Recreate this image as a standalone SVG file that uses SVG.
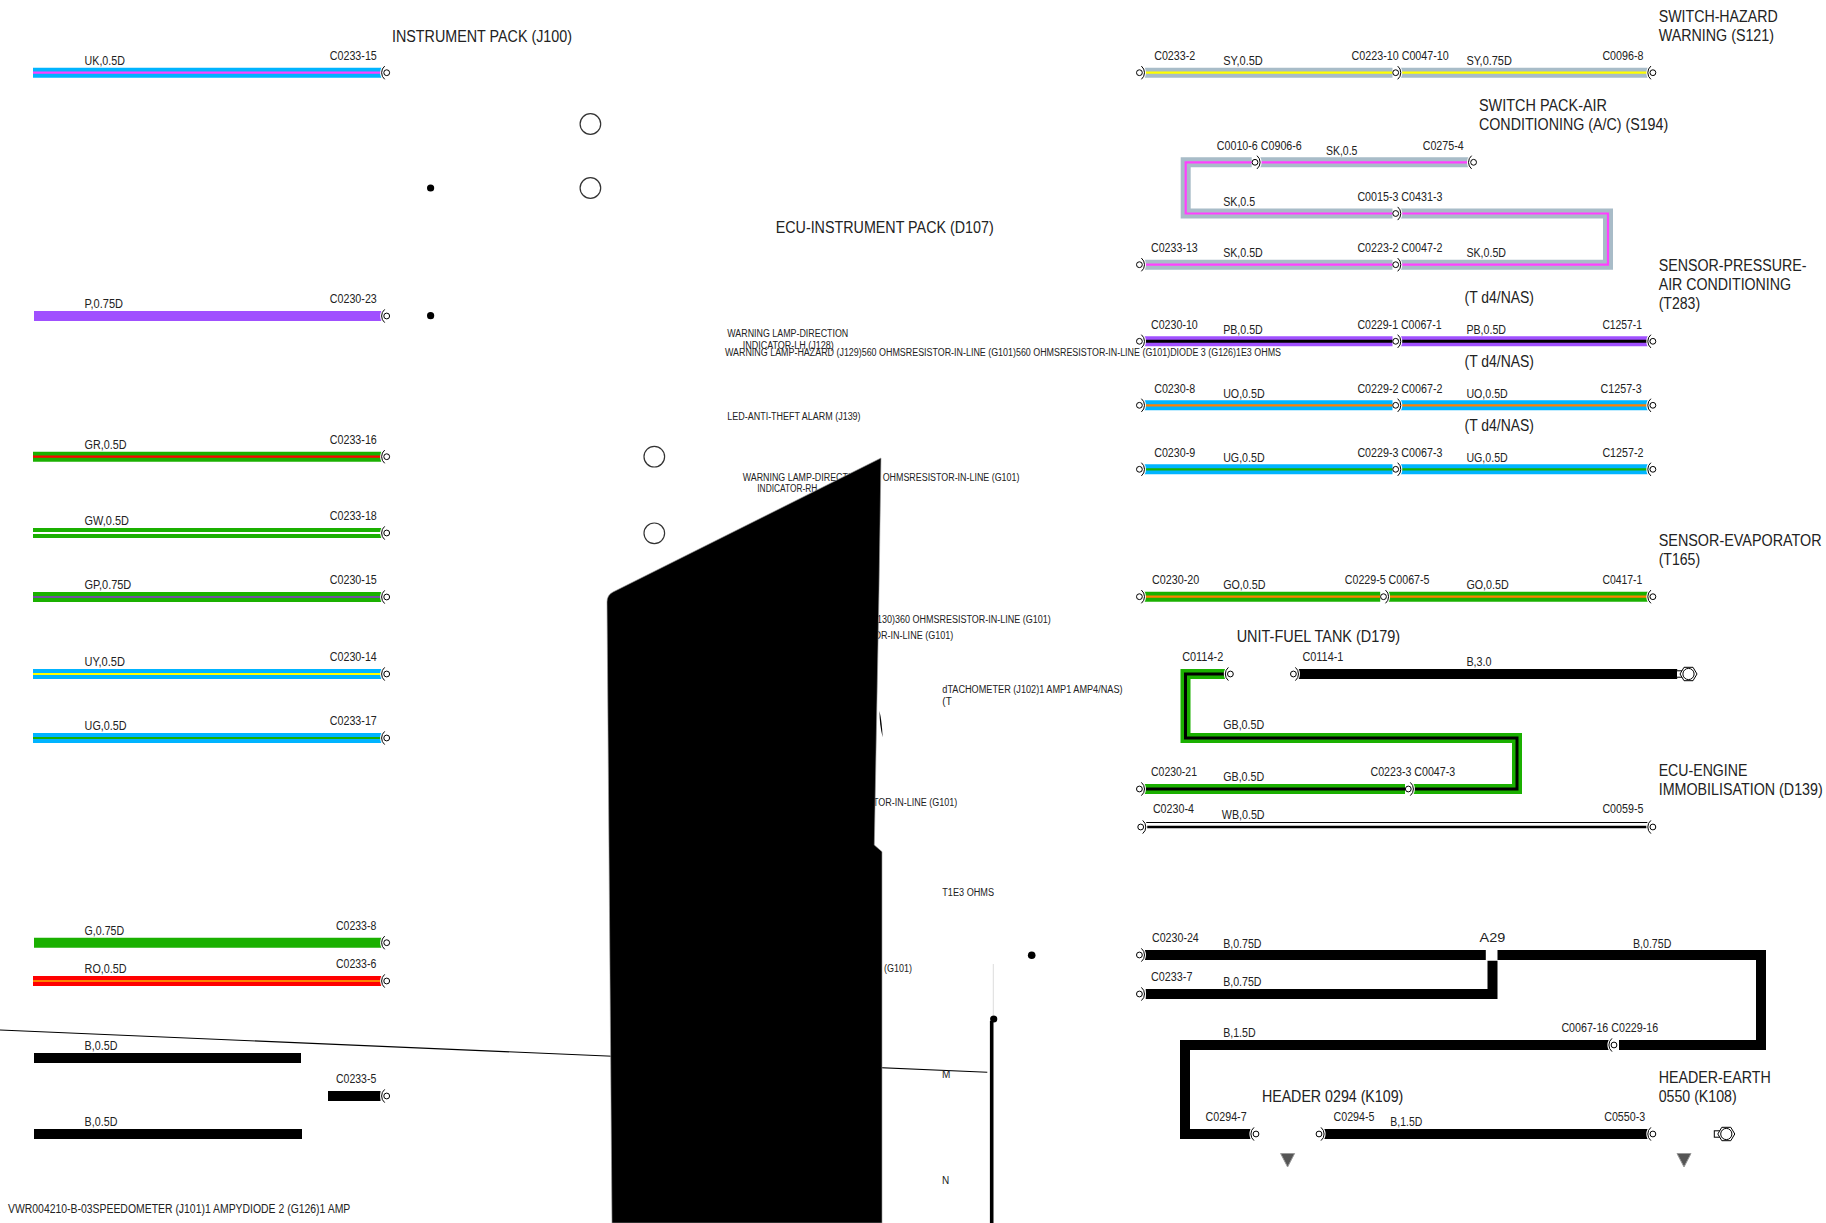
<svg xmlns="http://www.w3.org/2000/svg" width="1826" height="1223" viewBox="0 0 1826 1223">
<style>
text{font-family:"Liberation Sans",Arial,sans-serif;fill:#222}
.t{font-size:12px}
.h{font-size:16px}
.s{font-size:10px}
.w,.i{fill:none;stroke-linejoin:miter}
.w{stroke-width:10}
.i{stroke-width:2.2}
.cy{stroke:#00b4ff}.mg{stroke:#ff40ff}.pu{stroke:#a050ff}.gn{stroke:#1ab000}.rd{stroke:#f00}.wh{stroke:#fff}
.vi{stroke:#7050a0}.ye{stroke:#ff0}.or{stroke:#ff8000}.gy{stroke:#a8bcc8}.bk{stroke:#000}
.i.bk{stroke-width:3}
.term{fill:none;stroke:#000;stroke-width:1}
.halo{fill:none;stroke:#fff;stroke-width:3}
.ci{fill:#fff;stroke:#000;stroke-width:1}
.o{fill:#fff;stroke:#333;stroke-width:1.2}
.d{fill:#000}
.tri{fill:#555;stroke:#999;stroke-width:1}
</style>
<defs>
<g id="tR"><path class="halo" d="M-2-6.6A8.6 8.6 0 0 0-2 6.6"/><path class="term" d="M-2-6.6A8.6 8.6 0 0 0-2 6.6"/><circle class="ci" r="2.9"/></g>
<g id="tL"><path class="halo" d="M2-6.6A8.6 8.6 0 0 1 2 6.6"/><path class="term" d="M2-6.6A8.6 8.6 0 0 1 2 6.6"/><circle class="ci" r="2.9"/></g>
<g id="nut"><rect x="-12" y="-3.2" width="6" height="6.4" fill="#fff" stroke="#000"/><path class="ci" d="M-8.5 0L-4.5-6.7H4.5L8.5 0L4.5 6.7H-4.5Z"/><circle class="ci" r="5.6"/></g>
</defs>
<rect width="1826" height="1223" fill="#fff"/>

<g id="connectors">
<path class="w cy" d="M33 72.7H381.6"/><path class="i mg" d="M33 72.7H381.6"/>
<path class="w pu" d="M34 316H381.6"/>
<path class="w gn" d="M33 456.7H381.6"/><path class="i rd" d="M33 456.7H381.6"/>
<path class="w gn" d="M33 533H381.6"/><path class="i wh" d="M33 533H381.6"/>
<path class="w gn" d="M33 597H381.6"/><path class="i vi" d="M33 597H381.6"/>
<path class="w cy" d="M33 674H381.6"/><path class="i ye" d="M33 674H381.6"/>
<path class="w cy" d="M33 738H381.6"/><path class="i gn" d="M33 738H381.6"/>
<path class="w gn" d="M34 942.7H381.6"/>
<path class="w rd" d="M33 981H381.6"/><path class="i or" d="M33 981H381.6"/>
<path class="w bk" d="M34 1058H301"/>
<path class="w bk" d="M328 1096H380.5"/>
<path class="w bk" d="M34 1134H302"/>

<path class="w gy" d="M1144.8 72.7H1649.3"/><path class="i ye" d="M1144.8 72.7H1649.3"/>
<path class="w gy" d="M1144.8 264.7H1608V213.5H1185.7V162.3H1469"/><path class="i mg" d="M1144.8 264.7H1608V213.5H1185.7V162.3H1469"/>
<path class="w pu" d="M1143.4 341.3H1649.3"/><path class="i bk" d="M1143.4 341.3H1649.3"/>
<path class="w cy" d="M1143.4 405.3H1649.3"/><path class="i or" d="M1143.4 405.3H1649.3"/>
<path class="w cy" d="M1143.4 469.3H1649.3"/><path class="i gn" d="M1143.4 469.3H1649.3"/>
<path class="w gn" d="M1143.4 596.7H1649.3"/><path class="i or" d="M1143.4 596.7H1649.3"/>
<path class="w bk" d="M1298 674H1677.2"/>
<path class="w gn" d="M1225.5 674H1185.5V738H1517V789H1143.4"/><path class="i bk" d="M1225.5 674H1185.5V738H1517V789H1143.4"/>
<path fill="none" stroke="#000" stroke-width="1" d="M1146 822.5H1648.4"/>
<path fill="none" stroke="#000" stroke-width="2.6" d="M1146 827H1648.4"/>
<path class="w bk" d="M1144.8 955H1485.8"/>
<path class="w bk" d="M1497.5 955H1761V1045H1185V1134H1250.6"/>
<path class="w bk" d="M1145.7 994H1492.5V960.7"/>
<path class="w bk" d="M1324 1134H1648.4"/>
<rect x="1392.5" y="66" width="7.5" height="14" fill="#fff"/>
<rect x="1392.5" y="207" width="7.5" height="14" fill="#fff"/>
<rect x="1392.5" y="258" width="7.5" height="14" fill="#fff"/>
<rect x="1392.5" y="335" width="7.5" height="13" fill="#fff"/>
<rect x="1392.5" y="399" width="7.5" height="13" fill="#fff"/>
<rect x="1392.5" y="463" width="7.5" height="13" fill="#fff"/>
<rect x="1380.2" y="590" width="7.5" height="13" fill="#fff"/>
<rect x="1405" y="783" width="7.5" height="13" fill="#fff"/>
<rect x="1609.6" y="1039" width="9.4" height="12" fill="#fff"/>
<rect x="1251.7" y="156" width="7.5" height="13" fill="#fff"/>

<path stroke="#000" stroke-width="1.1" d="M0 1030L987.3 1072.3"/>
<path fill="none" stroke="#000" stroke-width="3.6" d="M991.7 1021V1223"/>
<path fill="none" stroke="#ddd" stroke-width="1" d="M993.3 964V1015"/>
</g>

<g id="instrument-pack">
<text class="h" x="392" y="42" textLength="180" lengthAdjust="spacingAndGlyphs">INSTRUMENT PACK (J100)</text>
<text class="t" x="84.6" y="65" textLength="40.3" lengthAdjust="spacingAndGlyphs">UK,0.5D</text>
<text class="t" x="329.8" y="60" textLength="47" lengthAdjust="spacingAndGlyphs">C0233-15</text>
<text class="t" x="84.6" y="308" textLength="38.4" lengthAdjust="spacingAndGlyphs">P,0.75D</text>
<text class="t" x="329.8" y="303" textLength="47" lengthAdjust="spacingAndGlyphs">C0230-23</text>
<text class="t" x="84.6" y="449" textLength="42" lengthAdjust="spacingAndGlyphs">GR,0.5D</text>
<text class="t" x="329.8" y="444" textLength="47" lengthAdjust="spacingAndGlyphs">C0233-16</text>
<text class="t" x="84.6" y="525" textLength="44.3" lengthAdjust="spacingAndGlyphs">GW,0.5D</text>
<text class="t" x="329.8" y="520" textLength="47" lengthAdjust="spacingAndGlyphs">C0233-18</text>
<text class="t" x="84.6" y="589" textLength="46.7" lengthAdjust="spacingAndGlyphs">GP,0.75D</text>
<text class="t" x="329.8" y="584" textLength="47" lengthAdjust="spacingAndGlyphs">C0230-15</text>
<text class="t" x="84.6" y="666" textLength="40.3" lengthAdjust="spacingAndGlyphs">UY,0.5D</text>
<text class="t" x="329.8" y="661" textLength="47" lengthAdjust="spacingAndGlyphs">C0230-14</text>
<text class="t" x="84.6" y="730" textLength="42" lengthAdjust="spacingAndGlyphs">UG,0.5D</text>
<text class="t" x="329.8" y="725" textLength="47" lengthAdjust="spacingAndGlyphs">C0233-17</text>
<text class="t" x="84.6" y="935" textLength="39.5" lengthAdjust="spacingAndGlyphs">G,0.75D</text>
<text class="t" x="336" y="930" textLength="40.3" lengthAdjust="spacingAndGlyphs">C0233-8</text>
<text class="t" x="84.6" y="973" textLength="42" lengthAdjust="spacingAndGlyphs">RO,0.5D</text>
<text class="t" x="336" y="968" textLength="40.3" lengthAdjust="spacingAndGlyphs">C0233-6</text>
<text class="t" x="84.6" y="1050" textLength="32.8" lengthAdjust="spacingAndGlyphs">B,0.5D</text>
<text class="t" x="336" y="1083" textLength="40.3" lengthAdjust="spacingAndGlyphs">C0233-5</text>
<text class="t" x="84.6" y="1126" textLength="32.8" lengthAdjust="spacingAndGlyphs">B,0.5D</text>
<text class="t" x="8" y="1213" textLength="342.3" lengthAdjust="spacingAndGlyphs">VWR004210-B-03SPEEDOMETER (J101)1 AMPYDIODE 2 (G126)1 AMP</text>
<use href="#tR" x="386.7" y="72.7"/><use href="#tR" x="386.7" y="316"/><use href="#tR" x="386.7" y="456.7"/>
<use href="#tR" x="386.7" y="533"/><use href="#tR" x="386.7" y="597"/><use href="#tR" x="386.7" y="674"/>
<use href="#tR" x="386.7" y="738"/><use href="#tR" x="386.7" y="942.7"/><use href="#tR" x="386.7" y="981"/>
<use href="#tR" x="386.7" y="1096"/>
<circle class="o" cx="590.4" cy="124" r="10.3"/><circle class="o" cx="590.4" cy="188" r="10.3"/>
<circle class="o" cx="654.3" cy="456.7" r="10.3"/><circle class="o" cx="654.3" cy="533.3" r="10.3"/>
<circle class="d" cx="430.6" cy="188" r="3.6"/><circle class="d" cx="430.6" cy="315.7" r="3.6"/>
</g>

<g id="ecu-instrument-pack">
<text class="h" x="775.7" y="233" textLength="218" lengthAdjust="spacingAndGlyphs">ECU-INSTRUMENT PACK (D107)</text>
<text class="s" x="727.3" y="337.3" textLength="121" lengthAdjust="spacingAndGlyphs">WARNING LAMP-DIRECTION</text>
<text class="s" x="742.7" y="349" textLength="91" lengthAdjust="spacingAndGlyphs">INDICATOR-LH (J128)</text>
<text class="s" x="725" y="356" textLength="556" lengthAdjust="spacingAndGlyphs">WARNING LAMP-HAZARD (J129)560 OHMSRESISTOR-IN-LINE (G101)560 OHMSRESISTOR-IN-LINE (G101)DIODE 3 (G126)1E3 OHMS</text>
<text class="s" x="727.3" y="420.3" textLength="133.3" lengthAdjust="spacingAndGlyphs">LED-ANTI-THEFT ALARM (J139)</text>
<text class="s" x="742.7" y="481.3" textLength="121" lengthAdjust="spacingAndGlyphs">WARNING LAMP-DIRECTION</text>
<text class="s" x="757.3" y="492" textLength="60" lengthAdjust="spacingAndGlyphs">INDICATOR-RH</text>
<text class="s" x="882.7" y="481.3" textLength="136.7" lengthAdjust="spacingAndGlyphs">OHMSRESISTOR-IN-LINE (G101)</text>
<text class="s" x="877" y="623.3" textLength="173.7" lengthAdjust="spacingAndGlyphs">130)360 OHMSRESISTOR-IN-LINE (G101)</text>
<text class="s" x="874" y="639.3" textLength="79.3" lengthAdjust="spacingAndGlyphs">OR-IN-LINE (G101)</text>
<text class="s" x="942.3" y="692.7" textLength="180.3" lengthAdjust="spacingAndGlyphs">dTACHOMETER (J102)1 AMP1 AMP4/NAS)</text>
<text class="s" x="942.3" y="705.3">(T</text>
<text class="s" x="873" y="806" textLength="84.3" lengthAdjust="spacingAndGlyphs">TOR-IN-LINE (G101)</text>
<text class="s" x="942.3" y="896" textLength="51.7" lengthAdjust="spacingAndGlyphs">T1E3 OHMS</text>
<text class="s" x="884" y="972.3" textLength="28" lengthAdjust="spacingAndGlyphs">(G101)</text>
<text class="s" x="942" y="1078">M</text>
<text class="s" x="942" y="1184">N</text>
<path fill="#000" stroke="#999" stroke-width=".6" d="M881 458L613 592Q607 595 607 602L612 1223H882V851.7L874.3 845L879 590Z"/>
<path fill="#000" d="M879.5 711Q882 722 882.6 737Q879.5 725 879.5 711Z"/>
<circle class="d" cx="1031.7" cy="955.3" r="3.8"/>
<circle class="d" cx="993.7" cy="1019" r="3.6"/>
</g>

<g id="switch-hazard">
<text class="h" x="1658.7" y="21.7" textLength="119" lengthAdjust="spacingAndGlyphs">SWITCH-HAZARD</text>
<text class="h" x="1658.7" y="40.7" textLength="115.3" lengthAdjust="spacingAndGlyphs">WARNING (S121)</text>
<text class="t" x="1154.2" y="60" textLength="41" lengthAdjust="spacingAndGlyphs">C0233-2</text>
<text class="t" x="1223.2" y="65" textLength="39.6" lengthAdjust="spacingAndGlyphs">SY,0.5D</text>
<text class="t" x="1351.5" y="60" textLength="97.3" lengthAdjust="spacingAndGlyphs">C0223-10 C0047-10</text>
<text class="t" x="1466.4" y="65" textLength="45.5" lengthAdjust="spacingAndGlyphs">SY,0.75D</text>
<text class="t" x="1602.4" y="60" textLength="41" lengthAdjust="spacingAndGlyphs">C0096-8</text>
<use href="#tL" x="1139.4" y="72.7"/><use href="#tL" x="1395.7" y="72.7"/><use href="#tR" x="1652.9" y="72.7"/>
</g>

<g id="switch-pack-ac">
<text class="h" x="1479" y="111" textLength="128" lengthAdjust="spacingAndGlyphs">SWITCH PACK-AIR</text>
<text class="h" x="1479" y="130" textLength="189.2" lengthAdjust="spacingAndGlyphs">CONDITIONING (A/C) (S194)</text>
<text class="t" x="1216.8" y="150" textLength="85" lengthAdjust="spacingAndGlyphs">C0010-6 C0906-6</text>
<text class="t" x="1325.9" y="155" textLength="31.5" lengthAdjust="spacingAndGlyphs">SK,0.5</text>
<text class="t" x="1422.7" y="150" textLength="41" lengthAdjust="spacingAndGlyphs">C0275-4</text>
<text class="t" x="1223.2" y="206" textLength="32" lengthAdjust="spacingAndGlyphs">SK,0.5</text>
<text class="t" x="1357.4" y="201" textLength="85" lengthAdjust="spacingAndGlyphs">C0015-3 C0431-3</text>
<text class="t" x="1151" y="252" textLength="46.8" lengthAdjust="spacingAndGlyphs">C0233-13</text>
<text class="t" x="1223.2" y="257" textLength="39.6" lengthAdjust="spacingAndGlyphs">SK,0.5D</text>
<text class="t" x="1357.4" y="252" textLength="85" lengthAdjust="spacingAndGlyphs">C0223-2 C0047-2</text>
<text class="t" x="1466.4" y="257" textLength="39.6" lengthAdjust="spacingAndGlyphs">SK,0.5D</text>
<use href="#tL" x="1255" y="162.3"/><use href="#tR" x="1473.6" y="162.3"/>
<use href="#tL" x="1395.7" y="213.5"/><use href="#tL" x="1395.7" y="264.7"/><use href="#tL" x="1139.4" y="264.7"/>
</g>

<g id="sensor-pressure-ac">
<text class="h" x="1658.7" y="270.7" textLength="147.7" lengthAdjust="spacingAndGlyphs">SENSOR-PRESSURE-</text>
<text class="h" x="1658.7" y="290" textLength="132.4" lengthAdjust="spacingAndGlyphs">AIR CONDITIONING</text>
<text class="h" x="1658.7" y="309.3" textLength="41.4" lengthAdjust="spacingAndGlyphs">(T283)</text>
<text class="h" x="1464.6" y="303.3" textLength="69.4" lengthAdjust="spacingAndGlyphs">(T d4/NAS)</text>
<text class="h" x="1464.6" y="367.3" textLength="69.4" lengthAdjust="spacingAndGlyphs">(T d4/NAS)</text>
<text class="h" x="1464.6" y="431.3" textLength="69.4" lengthAdjust="spacingAndGlyphs">(T d4/NAS)</text>
<text class="t" x="1151" y="329" textLength="46.8" lengthAdjust="spacingAndGlyphs">C0230-10</text>
<text class="t" x="1223.2" y="334" textLength="39.6" lengthAdjust="spacingAndGlyphs">PB,0.5D</text>
<text class="t" x="1357.4" y="329" textLength="84.2" lengthAdjust="spacingAndGlyphs">C0229-1 C0067-1</text>
<text class="t" x="1466.4" y="334" textLength="39.6" lengthAdjust="spacingAndGlyphs">PB,0.5D</text>
<text class="t" x="1602.4" y="329" textLength="39.6" lengthAdjust="spacingAndGlyphs">C1257-1</text>
<text class="t" x="1154.2" y="393" textLength="41" lengthAdjust="spacingAndGlyphs">C0230-8</text>
<text class="t" x="1223.2" y="398" textLength="41.4" lengthAdjust="spacingAndGlyphs">UO,0.5D</text>
<text class="t" x="1357.4" y="393" textLength="85" lengthAdjust="spacingAndGlyphs">C0229-2 C0067-2</text>
<text class="t" x="1466.4" y="398" textLength="41.4" lengthAdjust="spacingAndGlyphs">UO,0.5D</text>
<text class="t" x="1600.6" y="393" textLength="41" lengthAdjust="spacingAndGlyphs">C1257-3</text>
<text class="t" x="1154.2" y="457" textLength="41" lengthAdjust="spacingAndGlyphs">C0230-9</text>
<text class="t" x="1223.2" y="462" textLength="41.4" lengthAdjust="spacingAndGlyphs">UG,0.5D</text>
<text class="t" x="1357.4" y="457" textLength="85" lengthAdjust="spacingAndGlyphs">C0229-3 C0067-3</text>
<text class="t" x="1466.4" y="462" textLength="41.4" lengthAdjust="spacingAndGlyphs">UG,0.5D</text>
<text class="t" x="1602.4" y="457" textLength="41" lengthAdjust="spacingAndGlyphs">C1257-2</text>
<use href="#tL" x="1139.4" y="341.3"/><use href="#tL" x="1395.7" y="341.3"/><use href="#tR" x="1652.9" y="341.3"/>
<use href="#tL" x="1139.4" y="405.3"/><use href="#tL" x="1395.7" y="405.3"/><use href="#tR" x="1652.9" y="405.3"/>
<use href="#tL" x="1139.4" y="469.3"/><use href="#tL" x="1395.7" y="469.3"/><use href="#tR" x="1652.9" y="469.3"/>
</g>

<g id="sensor-evaporator">
<text class="h" transform="translate(1658.7 546) scale(.89 1)" textLength="183.1" lengthAdjust="spacingAndGlyphs">SENSOR-EVAPORATOR</text>
<text class="h" x="1658.7" y="565.3" textLength="41.4" lengthAdjust="spacingAndGlyphs">(T165)</text>
<text class="t" x="1152" y="584" textLength="47.3" lengthAdjust="spacingAndGlyphs">C0230-20</text>
<text class="t" x="1223.2" y="589" textLength="42.3" lengthAdjust="spacingAndGlyphs">GO,0.5D</text>
<text class="t" x="1344.8" y="584" textLength="84.7" lengthAdjust="spacingAndGlyphs">C0229-5 C0067-5</text>
<text class="t" x="1466.4" y="589" textLength="42.3" lengthAdjust="spacingAndGlyphs">GO,0.5D</text>
<text class="t" x="1602.4" y="584" textLength="40" lengthAdjust="spacingAndGlyphs">C0417-1</text>
<use href="#tL" x="1139.4" y="596.7"/><use href="#tL" x="1383.5" y="596.7"/><use href="#tR" x="1652.9" y="596.7"/>
</g>

<g id="unit-fuel-tank">
<text class="h" x="1236.7" y="642.3" textLength="163.5" lengthAdjust="spacingAndGlyphs">UNIT-FUEL TANK (D179)</text>
<text class="t" x="1182.2" y="661" textLength="41" lengthAdjust="spacingAndGlyphs">C0114-2</text>
<text class="t" x="1302.4" y="661" textLength="41" lengthAdjust="spacingAndGlyphs">C0114-1</text>
<text class="t" x="1466.4" y="666" textLength="25.2" lengthAdjust="spacingAndGlyphs">B,3.0</text>
<text class="t" x="1223.2" y="729.3" textLength="41" lengthAdjust="spacingAndGlyphs">GB,0.5D</text>
<use href="#tR" x="1230.4" y="674"/><use href="#tL" x="1293.4" y="674"/>
<use href="#nut" x="1688.5" y="674"/>
</g>

<g id="ecu-engine-immobilisation">
<text class="h" x="1658.7" y="775.7" textLength="88.7" lengthAdjust="spacingAndGlyphs">ECU-ENGINE</text>
<text class="h" transform="translate(1658.7 795) scale(.89 1)" textLength="184.3" lengthAdjust="spacingAndGlyphs">IMMOBILISATION (D139)</text>
<text class="t" x="1151" y="776" textLength="46" lengthAdjust="spacingAndGlyphs">C0230-21</text>
<text class="t" x="1223.2" y="781" textLength="41" lengthAdjust="spacingAndGlyphs">GB,0.5D</text>
<text class="t" x="1370.5" y="776" textLength="84.7" lengthAdjust="spacingAndGlyphs">C0223-3 C0047-3</text>
<text class="t" x="1152.9" y="813" textLength="41" lengthAdjust="spacingAndGlyphs">C0230-4</text>
<text class="t" x="1221.8" y="819.3" textLength="42.8" lengthAdjust="spacingAndGlyphs">WB,0.5D</text>
<text class="t" x="1602.4" y="813" textLength="41" lengthAdjust="spacingAndGlyphs">C0059-5</text>
<use href="#tL" x="1139.4" y="789"/><use href="#tL" x="1408.3" y="789"/>
<use href="#tL" x="1140.7" y="827"/><use href="#tR" x="1652.9" y="827"/>
</g>

<g id="splice-a29">
<text class="t" x="1479.5" y="942" textLength="25.7" lengthAdjust="spacingAndGlyphs">A29</text>
<text class="t" x="1152" y="942" textLength="46.8" lengthAdjust="spacingAndGlyphs">C0230-24</text>
<text class="t" x="1223.2" y="947.7" textLength="38.3" lengthAdjust="spacingAndGlyphs">B,0.75D</text>
<text class="t" x="1633" y="947.7" textLength="38.3" lengthAdjust="spacingAndGlyphs">B,0.75D</text>
<text class="t" x="1151" y="980.7" textLength="41.4" lengthAdjust="spacingAndGlyphs">C0233-7</text>
<text class="t" x="1223.2" y="985.7" textLength="38.3" lengthAdjust="spacingAndGlyphs">B,0.75D</text>
<text class="t" x="1223.2" y="1037" textLength="32.4" lengthAdjust="spacingAndGlyphs">B,1.5D</text>
<text class="t" x="1561.4" y="1032" textLength="96.8" lengthAdjust="spacingAndGlyphs">C0067-16 C0229-16</text>
<use href="#tL" x="1139.4" y="955"/><use href="#tL" x="1139.4" y="994"/><use href="#tR" x="1614" y="1045"/>
</g>

<g id="header-0294">
<text class="h" x="1261.9" y="1102" textLength="141.4" lengthAdjust="spacingAndGlyphs">HEADER 0294 (K109)</text>
<text class="t" x="1205.6" y="1121" textLength="41" lengthAdjust="spacingAndGlyphs">C0294-7</text>
<text class="t" x="1333.5" y="1121" textLength="41" lengthAdjust="spacingAndGlyphs">C0294-5</text>
<text class="t" x="1390.3" y="1126" textLength="32" lengthAdjust="spacingAndGlyphs">B,1.5D</text>
<use href="#tR" x="1256" y="1134"/><use href="#tL" x="1319" y="1134"/>
<path class="tri" d="M1280.6 1153.5H1294.6L1287.6 1167Z"/>
</g>

<g id="header-earth-0550">
<text class="h" x="1658.7" y="1082.7" textLength="112" lengthAdjust="spacingAndGlyphs">HEADER-EARTH</text>
<text class="h" x="1658.7" y="1102" textLength="78" lengthAdjust="spacingAndGlyphs">0550 (K108)</text>
<text class="t" x="1604.2" y="1121" textLength="41" lengthAdjust="spacingAndGlyphs">C0550-3</text>
<use href="#tR" x="1652.9" y="1134"/>
<use href="#nut" x="1726.3" y="1134"/>
<path class="tri" d="M1677 1153.5H1691L1684 1167Z"/>
</g>
</svg>
